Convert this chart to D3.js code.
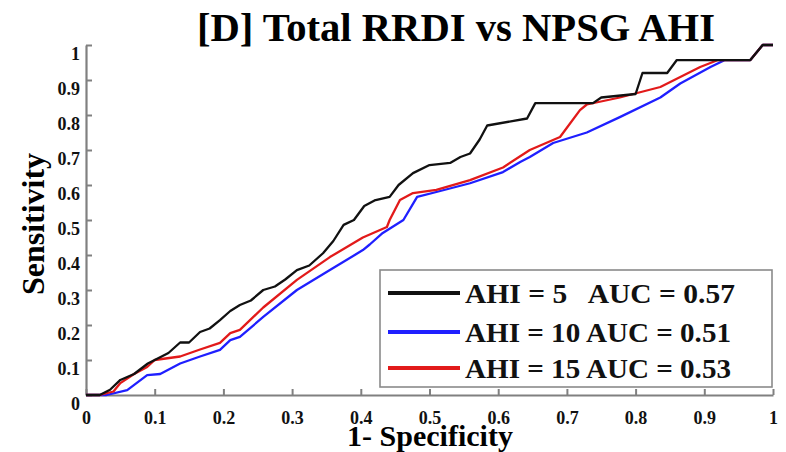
<!DOCTYPE html>
<html>
<head>
<meta charset="utf-8">
<script src="https://cdn.jsdelivr.net/npm/d3@7"></script>
<style>
  html, body { margin: 0; padding: 0; background: #fff; }
  svg { display: block; }
  text { font-family: "Liberation Serif", "Times New Roman", serif; font-weight: bold; }
</style>
</head>
<body>
<div id="chart"></div>
<script>
// ---- data ----
const titleText = "[D] Total RRDI vs NPSG AHI";
const xLabelText = "1- Specificity";
const yLabelText = "Sensitivity";
const xTicks = [0, 0.1, 0.2, 0.3, 0.4, 0.5, 0.6, 0.7, 0.8, 0.9, 1];
const yTicks = [0, 0.1, 0.2, 0.3, 0.4, 0.5, 0.6, 0.7, 0.8, 0.9, 1];
const seriesNames = ["AHI = 5   AUC = 0.57", "AHI = 10 AUC = 0.51", "AHI = 15 AUC = 0.53"];
const seriesColors = ["#111111", "#1f1fff", "#e21a1a"];

const rocAHI5 = [[0,0],[0.02,0],[0.035,0.015],[0.05,0.043],[0.07,0.06],[0.09,0.09],[0.11,0.11],[0.12,0.12],[0.137,0.15],[0.15,0.15],[0.166,0.18],[0.18,0.19],[0.195,0.214],[0.21,0.24],[0.224,0.257],[0.24,0.27],[0.258,0.3],[0.275,0.31],[0.29,0.33],[0.307,0.357],[0.325,0.37],[0.345,0.405],[0.36,0.44],[0.375,0.486],[0.39,0.5],[0.405,0.54],[0.42,0.556],[0.442,0.566],[0.455,0.6],[0.476,0.634],[0.5,0.657],[0.53,0.663],[0.545,0.68],[0.559,0.69],[0.573,0.73],[0.584,0.77],[0.642,0.79],[0.654,0.834],[0.738,0.834],[0.75,0.85],[0.8,0.86],[0.81,0.92],[0.846,0.92],[0.86,0.957],[0.967,0.957],[0.985,1],[1,1]];
const rocAHI10 = [[0,0],[0.03,0],[0.06,0.014],[0.089,0.057],[0.108,0.06],[0.137,0.09],[0.166,0.11],[0.195,0.129],[0.21,0.157],[0.224,0.166],[0.258,0.223],[0.307,0.3],[0.355,0.357],[0.403,0.414],[0.413,0.43],[0.432,0.463],[0.462,0.5],[0.482,0.566],[0.51,0.58],[0.559,0.605],[0.607,0.637],[0.632,0.666],[0.646,0.68],[0.68,0.72],[0.729,0.75],[0.777,0.794],[0.836,0.85],[0.865,0.89],[0.909,0.937],[0.93,0.957],[0.967,0.957],[0.985,1],[1,1]];
const rocAHI15 = [[0,0],[0.02,0],[0.04,0.01],[0.05,0.034],[0.07,0.06],[0.089,0.08],[0.1,0.1],[0.137,0.11],[0.166,0.13],[0.195,0.149],[0.21,0.177],[0.224,0.186],[0.258,0.25],[0.307,0.329],[0.355,0.394],[0.403,0.45],[0.438,0.48],[0.442,0.5],[0.457,0.557],[0.476,0.577],[0.51,0.586],[0.559,0.614],[0.607,0.65],[0.646,0.7],[0.69,0.737],[0.719,0.814],[0.729,0.83],[0.777,0.85],[0.836,0.88],[0.894,0.937],[0.92,0.957],[0.967,0.957],[0.985,1],[1,1]];

// ---- layout ----
const W = 786, H = 452;
const plot = { left: 86, right: 773, top: 45, bottom: 395 };

const svg = d3.select("#chart").append("svg").attr("width", W).attr("height", H);

const x = d3.scaleLinear().domain([0, 1]).range([plot.left, plot.right]);
const y = d3.scaleLinear().domain([0, 1]).range([plot.bottom, plot.top]);
const fmt = v => (v === 0 || v === 1) ? String(v) : d3.format(".1f")(v);

// x axis
const gx = svg.append("g").attr("transform", `translate(0,${plot.bottom})`)
  .call(d3.axisBottom(x).tickValues(xTicks).tickSize(-6).tickSizeOuter(0).tickFormat(fmt));
gx.select(".domain").attr("stroke", "#808080").attr("stroke-width", 2.2);
gx.selectAll(".tick line").attr("stroke", "#808080").attr("stroke-width", 2);
gx.selectAll(".tick text").attr("y", 29).attr("dy", null)
  .attr("font-size", 18).attr("fill", "#111")
  .attr("font-family", "Liberation Serif").attr("font-weight", "bold");

// y axis
const gy = svg.append("g").attr("transform", `translate(${plot.left},0)`)
  .call(d3.axisLeft(y).tickValues(yTicks).tickSize(-6).tickSizeOuter(0).tickFormat(fmt));
gy.select(".domain").attr("stroke", "#808080").attr("stroke-width", 2.2);
gy.selectAll(".tick line").attr("stroke", "#808080").attr("stroke-width", 2);
gy.selectAll(".tick text").attr("x", -6).attr("dy", "14")
  .attr("font-size", 18).attr("fill", "#111")
  .attr("font-family", "Liberation Serif").attr("font-weight", "bold");

// curves
const line = d3.line().x(d => x(d[0])).y(d => y(d[1]));
const allSeries = [rocAHI5, rocAHI10, rocAHI15];
[1, 2, 0].forEach(i => {
  svg.append("path").datum(allSeries[i])
    .attr("fill", "none")
    .attr("stroke", seriesColors[i])
    .attr("stroke-width", 2.3)
    .attr("stroke-linejoin", "round")
    .attr("d", line);
});

// title
svg.append("text").attr("x", 456).attr("y", 41).attr("text-anchor", "middle")
  .attr("font-size", 40).attr("textLength", 518).attr("lengthAdjust", "spacingAndGlyphs")
  .attr("fill", "#000").text(titleText);

// axis labels
svg.append("text").attr("x", 430).attr("y", 446).attr("text-anchor", "middle")
  .attr("font-size", 30).attr("fill", "#000").text(xLabelText);
svg.append("text").attr("transform", "translate(44,224) rotate(-90)")
  .attr("text-anchor", "middle").attr("font-size", 32).attr("fill", "#000").text(yLabelText);

// legend
const lg = svg.append("g");
lg.append("rect").attr("x", 380).attr("y", 270).attr("width", 392).attr("height", 117)
  .attr("fill", "#fff").attr("stroke", "#8a8a8a").attr("stroke-width", 1.6);
const rowY = [293, 332, 368];
const rowLen = [270, 266, 266];
seriesNames.forEach((name, i) => {
  lg.append("line").attr("x1", 388).attr("x2", 460).attr("y1", rowY[i]).attr("y2", rowY[i])
    .attr("stroke", seriesColors[i]).attr("stroke-width", 4);
  lg.append("text").attr("x", 465).attr("y", rowY[i] + 10)
    .attr("font-size", 28).attr("fill", "#111")
    .attr("textLength", rowLen[i]).attr("lengthAdjust", "spacingAndGlyphs")
    .style("white-space", "pre").text(name);
});
</script>
</body>
</html>
